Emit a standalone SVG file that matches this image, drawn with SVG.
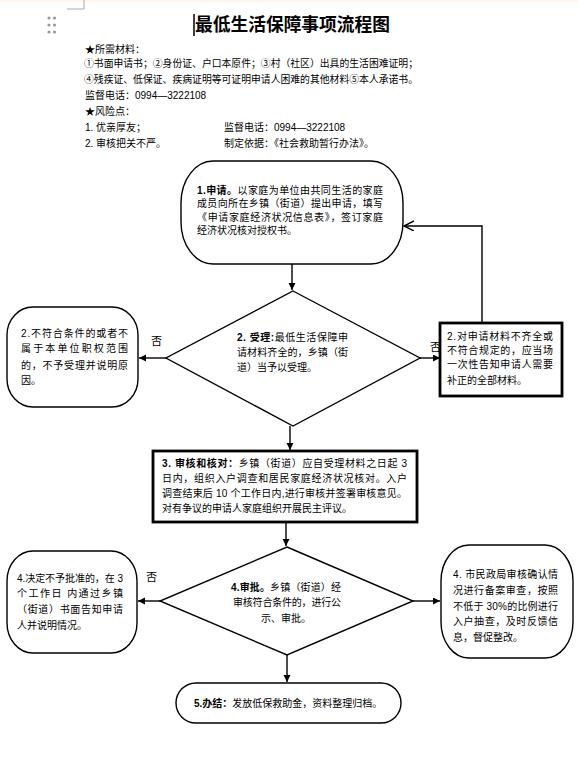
<svg xmlns="http://www.w3.org/2000/svg" width="578" height="758" viewBox="0 0 578 758">
<style>
  text { font-family: 'Liberation Sans', 'Noto Sans CJK SC', sans-serif; font-size: 10px; fill: #000; }
  .title { font-family: 'Noto Sans CJK SC', sans-serif; font-size: 18px; font-weight: bold; }
  .b { font-weight: bold; }
  .shape { fill: #fff; stroke: #000; stroke-width: 1.4; }
  .thick { fill: #fff; stroke: #000; stroke-width: 2.8; }
  .conn { fill: none; stroke: #000; stroke-width: 1.4; }
  .lbl { font-size: 11px; }
</style>
<defs>
  <marker id="ah" markerUnits="userSpaceOnUse" markerWidth="8" markerHeight="8" refX="7" refY="3.5" orient="auto">
    <path d="M0,0 L7,3.5 L0,7 z" fill="#000"/>
  </marker>
  <marker id="oh" markerUnits="userSpaceOnUse" markerWidth="12" markerHeight="12" refX="10" refY="5" orient="auto">
    <path d="M0,0 L10,5 L0,10" fill="none" stroke="#000" stroke-width="1.4"/>
  </marker>
</defs>
<rect width="578" height="758" fill="#fff"/>
<rect width="578" height="2" fill="#fdf6e8"/>

<!-- page decorations -->
<g id="decor">
  <path d="M67,9 H84 V0" fill="none" stroke="#aaa" stroke-width="1"/>
  <g fill="#999">
    <circle cx="49" cy="18" r="1.6"/><circle cx="54.5" cy="18" r="1.6"/>
    <circle cx="49" cy="25" r="1.6"/><circle cx="54.5" cy="25" r="1.6"/>
    <circle cx="49" cy="32" r="1.6"/><circle cx="54.5" cy="32" r="1.6"/>
  </g>
  <line x1="194" y1="14" x2="194" y2="36" stroke="#000" stroke-width="1.5"/>
</g>

<g id="header">
  <text class="title" x="195" y="31" textLength="195" lengthAdjust="spacingAndGlyphs">最低生活保障事项流程图</text>
  <text x="85" y="53">★所需材料：</text>
  <text x="84" y="67" textLength="334" lengthAdjust="spacingAndGlyphs">①书面申请书；②身份证、户口本原件；③村（社区）出具的生活困难证明；</text>
  <text x="84" y="83" textLength="334" lengthAdjust="spacingAndGlyphs">④残疾证、低保证、疾病证明等可证明申请人困难的其他材料⑤本人承诺书。</text>
  <text x="85" y="99">监督电话：0994—3222108</text>
  <text x="85" y="115">★风险点：</text>
  <text x="85" y="131">1. 优亲厚友；</text>
  <text x="224" y="131">监督电话：0994—3222108</text>
  <text x="85" y="147">2. 审核把关不严。</text>
  <text x="224" y="147">制定依据：《社会救助暂行办法》。</text>
</g>

<g id="connectors">
  <line class="conn" x1="292" y1="264" x2="292" y2="290" marker-end="url(#ah)"/>
  <line class="conn" x1="166" y1="358" x2="139" y2="358" marker-end="url(#ah)"/>
  <line class="conn" x1="420" y1="358" x2="440" y2="358" marker-end="url(#ah)"/>
  <polyline class="conn" points="482,323 482,226 404,226" marker-end="url(#oh)"/>
  <line class="conn" x1="290" y1="426" x2="290" y2="450" marker-end="url(#ah)"/>
  <line class="conn" x1="286" y1="522" x2="286" y2="546" marker-end="url(#ah)"/>
  <line class="conn" x1="160" y1="601" x2="138" y2="601" marker-end="url(#ah)"/>
  <line class="conn" x1="413" y1="601" x2="440" y2="601" marker-end="url(#ah)"/>
  <line class="conn" x1="287" y1="655" x2="287" y2="682" marker-end="url(#ah)"/>
  <text class="lbl" x="151" y="345">否</text>
  <text class="lbl" x="430" y="351">否</text>
  <text class="lbl" x="146" y="581">否</text>
</g>

<g id="n1">
  <rect class="shape" x="181" y="161" width="222" height="103" rx="32" ry="42"/>
  <text x="197" y="194" textLength="186" lengthAdjust="spacing"><tspan class="b">1.申请。</tspan>以家庭为单位由共同生活的家庭</text>
  <text x="197" y="207" textLength="186" lengthAdjust="spacing">成员向所在乡镇（街道）提出申请，填写</text>
  <text x="197" y="221" textLength="186" lengthAdjust="spacing">《申请家庭经济状况信息表》，签订家庭</text>
  <text x="197" y="234">经济状况核对授权书。</text>
</g>

<g id="n2">
  <polygon class="shape" points="293,291 420,358 293,426 166,358"/>
  <text x="237" y="341" textLength="111" lengthAdjust="spacing"><tspan class="b">2. 受理:</tspan>最低生活保障申</text>
  <text x="237" y="356" textLength="111" lengthAdjust="spacing">请材料齐全的，乡镇（街</text>
  <text x="237" y="371">道）当予以受理。</text>
</g>

<g id="n2a">
  <rect class="shape" x="7" y="307" width="131" height="100" rx="26" ry="28"/>
  <text x="21" y="337" textLength="107" lengthAdjust="spacing">2.不符合条件的或者不</text>
  <text x="21" y="352" textLength="107" lengthAdjust="spacing">属于本单位职权范围</text>
  <text x="21" y="369" textLength="107" lengthAdjust="spacing">的，不予受理并说明原</text>
  <text x="21" y="384">因。</text>
</g>

<g id="n2b">
  <rect class="thick" x="440" y="323" width="122" height="73"/>
  <text x="447" y="340" textLength="106" lengthAdjust="spacing">2.对申请材料不齐全或</text>
  <text x="447" y="354" textLength="106" lengthAdjust="spacing">不符合规定的，应当场</text>
  <text x="447" y="368" textLength="106" lengthAdjust="spacing">一次性告知申请人需要</text>
  <text x="447" y="384">补正的全部材料。</text>
</g>

<g id="n3">
  <rect class="thick" x="153" y="451" width="264" height="71"/>
  <text x="162" y="467" textLength="245" lengthAdjust="spacing"><tspan class="b">3. 审核和核对：</tspan>乡镇（街道）应自受理材料之日起 3</text>
  <text x="162" y="482" textLength="245" lengthAdjust="spacing">日内，组织入户调查和居民家庭经济状况核对。入户</text>
  <text x="162" y="497" textLength="245" lengthAdjust="spacing">调查结束后 10 个工作日内,进行审核并签署审核意见。</text>
  <text x="162" y="512">对有争议的申请人家庭组织开展民主评议。</text>
</g>

<g id="n4">
  <polygon class="shape" points="287,547 413,601 287,655 160,601"/>
  <text x="231" y="591" textLength="110" lengthAdjust="spacing"><tspan class="b">4.审批。</tspan>乡镇（街道）经</text>
  <text x="233" y="606" textLength="108" lengthAdjust="spacing">审核符合条件的，进行公</text>
  <text x="261" y="622">示、审批。</text>
</g>

<g id="n4a">
  <rect class="shape" x="7" y="551" width="130" height="102" rx="26" ry="30"/>
  <text x="17" y="582" textLength="106" lengthAdjust="spacing">4.决定不予批准的，在 3</text>
  <text x="17" y="597" textLength="106" lengthAdjust="spacing">个工作日 内通过乡镇</text>
  <text x="17" y="613" textLength="106" lengthAdjust="spacing">（街道）书面告知申请</text>
  <text x="17" y="629">人并说明情况。</text>
</g>

<g id="n4b">
  <rect class="shape" x="441" y="545" width="132" height="113" rx="28" ry="36"/>
  <text x="453" y="578" textLength="105" lengthAdjust="spacing">4. 市民政局审核确认情</text>
  <text x="453" y="594" textLength="105" lengthAdjust="spacing">况进行备案审查，按照</text>
  <text x="453" y="610" textLength="105" lengthAdjust="spacing">不低于 30%的比例进行</text>
  <text x="453" y="625" textLength="105" lengthAdjust="spacing">入户抽查，及时反馈信</text>
  <text x="453" y="641">息，督促整改。</text>
</g>

<g id="n5">
  <rect class="shape" x="176" y="683" width="225" height="40" rx="20" ry="20"/>
  <text x="194" y="707"><tspan class="b">5.办结：</tspan>发放低保救助金，资料整理归档。</text>
</g>
</svg>
